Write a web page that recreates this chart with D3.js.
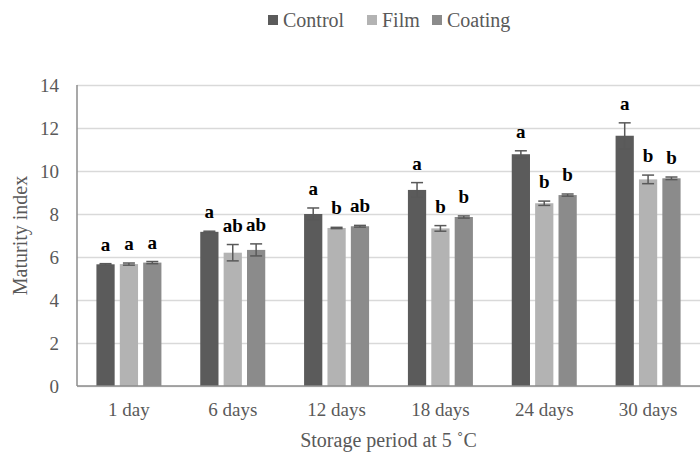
<!DOCTYPE html>
<html>
<head>
<meta charset="utf-8">
<script src="https://cdn.jsdelivr.net/npm/d3@7"></script>
<style>
    html, body { margin: 0; padding: 0; background: #fff; }
</style>
</head>
<body>
<div id="chart"></div>
<script>
'use strict';

let periods = ['1 day', '6 days', '12 days', '18 days', '24 days', '30 days'];
let seriesNames = ['Control', 'Film', 'Coating'];

let controlValues = [5.66, 7.17, 8.00, 9.12, 10.78, 11.64];
let filmValues = [5.67, 6.20, 7.35, 7.33, 8.50, 9.61];
let coatingValues = [5.74, 6.33, 7.43, 7.86, 8.88, 9.66];

let controlErrors = [0.03, 0.03, 0.28, 0.34, 0.16, 0.60];
let filmErrors = [0.05, 0.38, 0.03, 0.13, 0.10, 0.20];
let coatingErrors = [0.05, 0.28, 0.04, 0.05, 0.05, 0.06];

let controlLetters = ['a', 'a', 'a', 'a', 'a', 'a'];
let filmLetters = ['a', 'ab', 'b', 'b', 'b', 'b'];
let coatingLetters = ['a', 'ab', 'ab', 'b', 'b', 'b'];

let yTicks = [0, 2, 4, 6, 8, 10, 12, 14];

let serif = 'Liberation Serif, Tinos, Times New Roman, DejaVu Serif, serif';

let palette = {
    Control: '#5b5b5b',
    Film: '#b3b3b3',
    Coating: '#8b8b8b',
    ink: '#595959',
    grid: '#d9d9d9',
    axis: '#8c8c8c'
};

let width = 700, height = 455;
let margins = { top: 85, right: 0, bottom: 69, left: 77 };
let innerWidth = width - margins.left - margins.right;
let innerHeight = height - margins.top - margins.bottom;

let seriesData = [
    { name: 'Control', values: controlValues, errors: controlErrors, letters: controlLetters },
    { name: 'Film', values: filmValues, errors: filmErrors, letters: filmLetters },
    { name: 'Coating', values: coatingValues, errors: coatingErrors, letters: coatingLetters }
];

let bars = [];
seriesData.forEach(s => {
    periods.forEach((p, i) => {
        bars.push({ period: p, series: s.name, value: s.values[i], err: s.errors[i], letter: s.letters[i] });
    });
});

let svg = d3.select('#chart').append('svg')
    .attr('width', width)
    .attr('height', height)
    .attr('font-family', serif);

let chartGroup = svg.append('g')
    .attr('transform', `translate(${margins.left}, ${margins.top})`);

let scaleX = d3.scaleBand()
    .domain(periods)
    .range([0, innerWidth]);

let groupSpan = 65;
let scaleInner = d3.scaleBand()
    .domain(seriesNames)
    .range([(scaleX.bandwidth() - groupSpan) / 2, (scaleX.bandwidth() + groupSpan) / 2])
    .paddingInner(0.22);

let scaleY = d3.scaleLinear()
    .domain([0, 14])
    .range([innerHeight, 0]);

// gridlines + y tick labels
let yAxis = d3.axisLeft(scaleY)
    .tickValues(yTicks)
    .tickSize(-innerWidth)
    .tickPadding(18);

let axisYGroup = chartGroup.append('g').call(yAxis)
    .attr('font-family', serif)
    .attr('font-size', 19);
axisYGroup.select('.domain').remove();
axisYGroup.selectAll('.tick line')
    .attr('stroke', palette.grid)
    .attr('stroke-width', 1.3);
axisYGroup.selectAll('.tick text')
    .attr('fill', palette.ink);

// bars
chartGroup.append('g')
    .selectAll('rect')
    .data(bars)
    .join('rect')
    .attr('x', d => scaleX(d.period) + scaleInner(d.series))
    .attr('y', d => scaleY(d.value))
    .attr('width', scaleInner.bandwidth())
    .attr('height', d => innerHeight - scaleY(d.value))
    .attr('fill', d => palette[d.series]);

// error bars
let capHalf = 6;
let errGroup = chartGroup.append('g')
    .attr('stroke', palette.ink)
    .attr('stroke-width', 1.5);

bars.forEach(d => {
    let cx = scaleX(d.period) + scaleInner(d.series) + scaleInner.bandwidth() / 2;
    let yTop = scaleY(d.value + d.err);
    let yBot = scaleY(d.value - d.err);
    errGroup.append('line').attr('x1', cx).attr('x2', cx).attr('y1', yTop).attr('y2', yBot);
    errGroup.append('line').attr('x1', cx - capHalf).attr('x2', cx + capHalf).attr('y1', yTop).attr('y2', yTop);
    errGroup.append('line').attr('x1', cx - capHalf).attr('x2', cx + capHalf).attr('y1', yBot).attr('y2', yBot);
});

// significance letters
chartGroup.append('g')
    .attr('font-family', serif)
    .attr('font-size', 19)
    .attr('font-weight', 'bold')
    .selectAll('text')
    .data(bars)
    .join('text')
    .attr('x', d => scaleX(d.period) + scaleInner(d.series) + scaleInner.bandwidth() / 2)
    .attr('y', d => scaleY(d.value + d.err) - 13)
    .attr('text-anchor', 'middle')
    .attr('fill', '#000')
    .text(d => d.letter);

// axes lines
chartGroup.append('line')
    .attr('x1', 0).attr('x2', 0)
    .attr('y1', scaleY(14)).attr('y2', innerHeight)
    .attr('stroke', palette.axis)
    .attr('stroke-width', 1.5);

chartGroup.append('line')
    .attr('x1', 0).attr('x2', innerWidth)
    .attr('y1', innerHeight).attr('y2', innerHeight)
    .attr('stroke', palette.axis)
    .attr('stroke-width', 1.5);

// x labels
let xAxis = d3.axisBottom(scaleX)
    .tickSize(0)
    .tickPadding(17);

let axisXGroup = chartGroup.append('g')
    .attr('transform', `translate(0, ${innerHeight})`)
    .call(xAxis)
    .attr('font-family', serif)
    .attr('font-size', 19);
axisXGroup.select('.domain').remove();
axisXGroup.selectAll('.tick text')
    .attr('fill', palette.ink);

// axis titles
svg.append('text')
    .attr('x', margins.left + innerWidth / 2)
    .attr('y', 447)
    .attr('text-anchor', 'middle')
    .attr('fill', palette.ink)
    .attr('font-size', 20)
    .text('Storage period at 5 ˚C');

svg.append('text')
    .attr('transform', `translate(27, ${margins.top + innerHeight / 2}) rotate(-90)`)
    .attr('text-anchor', 'middle')
    .attr('fill', palette.ink)
    .attr('font-size', 20)
    .text('Maturity index');

// legend
let legendX = [268, 367, 432];
let legend = svg.append('g');
seriesNames.forEach((name, i) => {
    legend.append('rect')
        .attr('x', legendX[i])
        .attr('y', 15)
        .attr('width', 10)
        .attr('height', 10)
        .attr('fill', palette[name]);
    legend.append('text')
        .attr('x', legendX[i] + 15)
        .attr('y', 27)
        .attr('fill', palette.ink)
        .attr('font-size', 20)
        .text(name);
});
</script>
</body>
</html>
